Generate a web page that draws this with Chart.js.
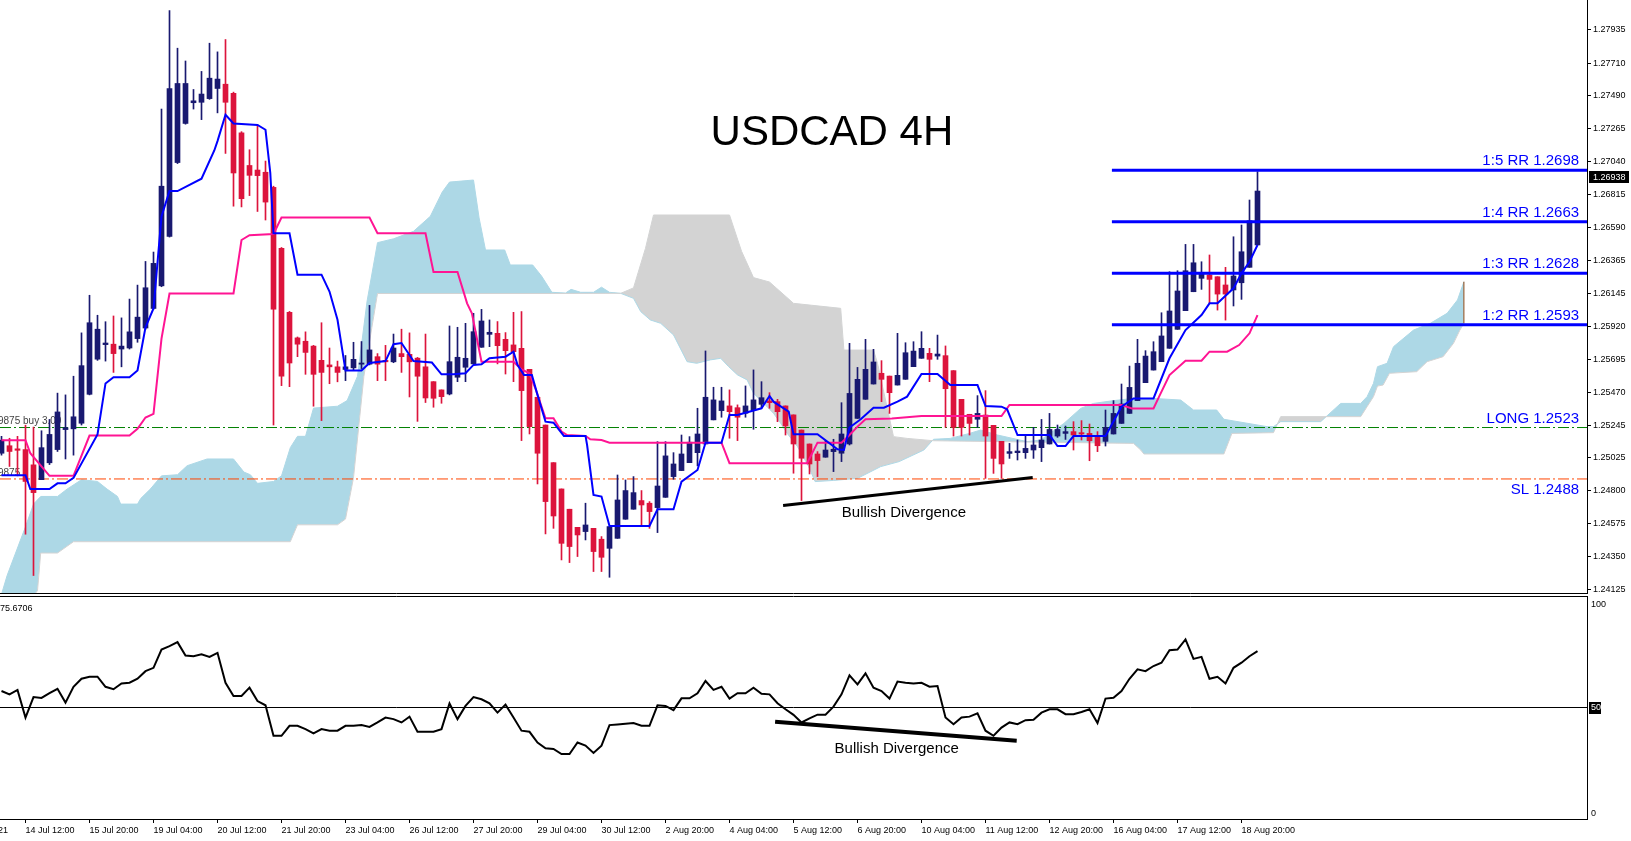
<!DOCTYPE html>
<html>
<head>
<meta charset="utf-8">
<title>USDCAD 4H</title>
<script src="https://cdn.jsdelivr.net/npm/chart.js@4.4.1/dist/chart.umd.min.js"></script>
<style>
  body { margin: 0; background: #fff; }
  #price { position: absolute; left: 0; top: 0; }
  #rsi { position: absolute; left: 0; top: 595px; }
</style>
</head>
<body>
<canvas id="price" width="1631" height="594"></canvas>
<canvas id="rsi" width="1631" height="246"></canvas>
<script>
// USDCAD 4H candles, bar 0 = 13 Jul 2021 16:00, last bar = 19 Aug 04:00
const opens = [
  1.25055,1.25106,1.25085,1.25080,1.24976,1.24875,1.24990,1.25080,1.25216,1.25221,
  1.25259,1.25456,1.25695,1.25794,1.25797,1.25764,1.25771,1.25835,1.25907,1.26040,
  1.26194,1.26531,1.27033,1.27299,1.27440,1.27443,1.27468,1.27537,1.27566,1.27504,
  1.27235,1.27013,1.26982,1.26967,1.26864,1.26450,1.26014,1.25840,1.25817,1.25784,
  1.25687,1.25656,1.25643,1.25625,1.25636,1.25661,1.25661,1.25712,1.25687,1.25677,
  1.25733,1.25728,1.25702,1.25643,1.25542,1.25486,1.25458,1.25572,1.25640,1.25663,
  1.25776,1.25864,1.25871,1.25830,1.25792,1.25769,1.25626,1.25436,1.25247,1.24991,
  1.24812,1.24674,1.24551,1.24522,1.24544,1.24470,1.24408,1.24476,1.24606,1.24674,
  1.24733,1.24715,1.24685,1.24755,1.24896,1.24937,1.24991,1.25059,1.25118,1.25282,
  1.25345,1.25377,1.25365,1.25327,1.25350,1.25388,1.25411,1.25406,1.25377,1.25316,
  1.25213,1.25118,1.25050,1.25028,1.25066,1.25055,1.25118,1.25292,1.25422,1.25526,
  1.25599,1.25580,1.25519,1.25558,1.25644,1.25701,1.25735,1.25716,1.25719,1.25617,
  1.25422,1.25320,1.25286,1.25315,1.25245,1.25136,1.25054,1.25059,1.25059,1.25077,
  1.25093,1.25118,1.25172,1.25190,1.25202,1.25195,1.25190,1.25163,1.25136,1.25186,
  1.25258,1.25326,1.25413,1.25535,1.25621,1.25678,1.25769,1.25898,1.26025,1.26154,
  1.26245,1.26268,1.26256,1.26200,1.26166,1.26215,1.26320,1.26472
];
const highs = [
  1.25170,1.25157,1.25170,1.25246,1.25233,1.25208,1.25285,1.25464,1.25452,1.25579,
  1.25874,1.26130,1.25994,1.25950,1.25989,1.25976,1.26104,1.26199,1.26360,1.26424,
  1.27397,1.28067,1.27811,1.27724,1.27530,1.27653,1.27845,1.27786,1.27870,1.27512,
  1.27243,1.27120,1.27289,1.27043,1.26872,1.26455,1.26020,1.25846,1.25881,1.25789,
  1.25943,1.25771,1.25682,1.25720,1.25810,1.25815,1.26061,1.25733,1.25789,1.25866,
  1.25899,1.25874,1.25707,1.25866,1.25542,1.25486,1.25921,1.25912,1.25939,1.26007,
  1.26034,1.25962,1.25951,1.25876,1.26014,1.26019,1.25626,1.25436,1.25247,1.24991,
  1.24812,1.24674,1.24551,1.24715,1.24544,1.24488,1.24556,1.24907,1.24873,1.24896,
  1.24801,1.24726,1.25134,1.25134,1.25059,1.25179,1.25168,1.25361,1.25751,1.25504,
  1.25504,1.25486,1.25384,1.25513,1.25622,1.25542,1.25467,1.25422,1.25377,1.25316,
  1.25213,1.25118,1.25066,1.25141,1.25150,1.25399,1.25803,1.25639,1.25830,1.25762,
  1.25685,1.25580,1.25871,1.25807,1.25814,1.25882,1.25769,1.25859,1.25785,1.25617,
  1.25422,1.25320,1.25447,1.25481,1.25245,1.25136,1.25122,1.25145,1.25172,1.25231,
  1.25285,1.25326,1.25247,1.25240,1.25270,1.25277,1.25254,1.25202,1.25349,1.25413,
  1.25526,1.25648,1.25830,1.25753,1.25814,1.26011,1.26290,1.26297,1.26476,1.26476,
  1.26358,1.26404,1.26256,1.26320,1.26528,1.26608,1.26778,1.26971
];
const lows = [
  1.25042,1.24965,1.24901,1.24504,1.24223,1.24875,1.24978,1.25067,1.25016,1.25042,
  1.25247,1.25452,1.25687,1.25682,1.25605,1.25643,1.25764,1.25810,1.25899,1.26035,
  1.26188,1.26526,1.27026,1.27294,1.27397,1.27325,1.27463,1.27371,1.27095,1.26736,
  1.26731,1.26808,1.26700,1.26642,1.25247,1.25515,1.25508,1.25712,1.25592,1.25375,
  1.25277,1.25528,1.25541,1.25549,1.25618,1.25631,1.25656,1.25549,1.25549,1.25671,
  1.25605,1.25438,1.25272,1.25400,1.25368,1.25395,1.25452,1.25542,1.25542,1.25663,
  1.25776,1.25780,1.25663,1.25594,1.25542,1.25141,1.25186,1.24846,1.24506,1.24544,
  1.24329,1.24311,1.24352,1.24465,1.24250,1.24250,1.24211,1.24476,1.24606,1.24674,
  1.24567,1.24544,1.24515,1.24755,1.24878,1.24937,1.24991,1.24969,1.25118,1.25282,
  1.25300,1.25157,1.25141,1.25300,1.25218,1.25361,1.25361,1.25270,1.25179,1.24919,
  1.24733,1.24914,1.24896,1.25028,1.24930,1.24998,1.25111,1.25292,1.25422,1.25526,
  1.25406,1.25326,1.25519,1.25558,1.25644,1.25701,1.25542,1.25694,1.25231,1.25172,
  1.25172,1.25179,1.25231,1.24884,1.24918,1.24884,1.25020,1.25009,1.25020,1.25020,
  1.24998,1.25118,1.25163,1.25149,1.25077,1.25145,1.25004,1.25066,1.25104,1.25186,
  1.25258,1.25326,1.25413,1.25535,1.25621,1.25678,1.25769,1.25898,1.26025,1.26154,
  1.26170,1.26079,1.26029,1.25961,1.26057,1.26102,1.26320,1.26472
];
const closes = [
  1.25144,1.25067,1.25075,1.24863,1.24787,1.25093,1.25183,1.25336,1.25229,1.25303,
  1.25651,1.25943,1.25899,1.25805,1.25733,1.25784,1.25881,1.25981,1.26181,1.26347,
  1.26872,1.27537,1.27571,1.27571,1.27453,1.27499,1.27607,1.27601,1.27443,1.26962,
  1.26787,1.26946,1.26944,1.26764,1.26035,1.25579,1.25669,1.25797,1.25741,1.25592,
  1.25605,1.25643,1.25605,1.25643,1.25694,1.25669,1.25758,1.25661,1.25677,1.25771,
  1.25712,1.25677,1.25579,1.25431,1.25429,1.25440,1.25678,1.25708,1.25701,1.25882,
  1.25955,1.25878,1.25787,1.25753,1.25746,1.25481,1.25236,1.25055,1.24726,1.24628,
  1.24442,1.24420,1.24499,1.24567,1.24386,1.24347,1.24556,1.24737,1.24801,1.24787,
  1.24703,1.24658,1.24832,1.25037,1.24982,1.25050,1.25130,1.25186,1.25436,1.25418,
  1.25411,1.25338,1.25300,1.25377,1.25418,1.25433,1.25399,1.25338,1.25241,1.25118,
  1.25021,1.24982,1.25005,1.25077,1.25082,1.25186,1.25462,1.25558,1.25626,1.25676,
  1.25558,1.25467,1.25585,1.25739,1.25750,1.25769,1.25694,1.25730,1.25494,1.25231,
  1.25231,1.25258,1.25326,1.25172,1.25020,1.24982,1.25066,1.25070,1.25088,1.25111,
  1.25145,1.25217,1.25217,1.25202,1.25179,1.25186,1.25140,1.25106,1.25231,1.25326,
  1.25390,1.25503,1.25667,1.25716,1.25746,1.25853,1.26023,1.26159,1.26297,1.26351,
  1.26283,1.26238,1.26138,1.26138,1.26261,1.26426,1.26637,1.26839
];

// RSI, one value per bar
const rsi = [
  57.4,55.9,57.9,45.5,54.7,54.3,56.4,58.4,52.2,59.3,
  62.9,63.8,63.8,59.3,58.2,60.8,61.1,62.9,66.3,67.8,
  76.0,77.5,79.3,73.3,73.0,73.9,72.7,74.5,61.1,55.2,
  55.2,58.9,52.9,51.0,37.3,37.3,41.8,41.8,40.3,38.4,
  40.3,39.6,39.6,41.8,41.8,42.1,41.3,43.3,45.5,44.8,
  43.3,45.9,39.1,39.1,39.1,40.3,51.8,44.8,50.7,54.7,
  53.7,51.9,47.7,51.3,45.5,39.6,39.1,34.3,31.7,31.4,
  29.1,29.1,34.3,32.9,29.6,32.9,42.1,42.4,42.7,43.0,
  41.8,41.8,51.0,50.7,48.8,54.1,54.1,56.4,61.9,57.9,
  59.3,54.0,56.4,56.4,58.9,56.2,55.9,51.9,49.2,46.7,
  43.3,45.1,46.8,46.8,50.4,55.9,64.4,60.4,65.3,58.9,
  57.4,54.0,61.6,61.1,60.8,61.1,59.3,59.6,45.5,42.5,
  45.5,45.9,47.4,39.6,37.3,41.0,43.3,42.5,44.3,44.5,
  47.7,49.2,49.2,47.0,47.0,48.0,49.2,43.0,54.0,54.4,
  57.4,62.9,67.1,66.3,68.6,70.1,75.7,76.0,80.5,71.8,
  72.7,62.9,63.8,60.8,67.8,70.1,73.0,75.3
];

// ichimoku lines, [bar, price] vertices
const tenkan = [[0,1.24906],[3,1.24906],[3.6,1.24811],[6,1.24811],[7,1.24850],[8,1.24850],[9,1.24887],[12,1.25183],[13,1.25530],[14,1.25572],[16,1.25572],[17,1.25618],[18,1.25912],[19,1.26040],[20,1.26667],[21,1.26839],[22,1.26839],[25,1.26923],[26.6,1.27115],[27,1.27179],[28,1.27358],[29,1.27299],[32,1.27289],[33,1.27256],[33.6,1.26962],[34,1.26552],[36,1.26552],[37,1.26270],[40,1.26270],[41,1.26155],[42,1.25963],[43,1.25618],[45,1.25618],[46,1.25669],[48,1.25682],[49,1.25797],[50,1.25805],[51.5,1.25682],[53.8,1.25672],[55,1.25592],[56.5,1.25592],[58,1.25599],[59,1.25656],[60,1.25660],[61,1.25701],[63,1.25712],[64,1.25746],[64.5,1.25656],[65.3,1.25588],[66.3,1.25588],[67,1.25452],[68,1.25270],[69,1.25263],[70.3,1.25173],[73,1.25173],[73.2,1.25111],[74,1.24771],[75,1.24760],[76,1.24560],[81,1.24560],[82,1.24674],[84,1.24674],[85,1.24862],[87,1.24941],[88,1.25127],[90,1.25127],[91,1.25316],[92,1.25316],[95,1.25361],[96,1.25445],[96.5,1.25406],[98.4,1.25338],[99,1.25184],[102,1.25184],[104.5,1.25082],[105.3,1.25077],[106,1.25230],[107.4,1.25286],[109,1.25365],[110.3,1.25365],[112,1.25406],[113.2,1.25440],[115,1.25594],[117,1.25594],[118.6,1.25519],[122,1.25519],[123,1.25376],[125,1.25372],[125.7,1.25354],[127,1.25179],[131,1.25179],[132,1.25104],[133,1.25104],[134,1.25172],[138,1.25172],[140,1.25372],[141.5,1.25428],[144,1.25428],[146,1.25701],[148,1.25893],[150,1.25995],[151,1.26075],[152,1.26075],[154,1.26177],[155,1.26279],[156,1.26358],[157,1.26472]];
const kijun = [[0,1.25144],[3,1.25144],[3.6,1.25055],[6,1.24901],[9,1.24901],[11,1.25175],[16,1.25175],[17,1.25221],[18,1.25298],[19,1.25323],[20,1.25835],[21,1.26142],[29,1.26142],[30,1.26506],[31,1.26539],[34,1.26547],[35,1.26659],[46,1.26659],[47,1.26552],[53,1.26552],[54,1.26288],[57,1.26288],[58.2,1.26075],[58.8,1.26007],[60,1.25678],[64,1.25678],[65,1.25626],[66,1.25599],[66.8,1.25486],[68,1.25293],[69,1.25293],[70,1.25202],[70.7,1.25179],[73,1.25173],[73.6,1.25150],[75,1.25145],[76,1.25127],[90,1.25127],[91,1.24987],[100.7,1.24987],[102,1.25127],[105,1.25127],[106,1.25179],[107,1.25236],[108,1.25286],[111.3,1.25292],[115,1.25308],[125,1.25308],[126,1.25383],[140,1.25383],[141.3,1.25360],[144,1.25360],[144.7,1.25440],[146,1.25587],[148,1.25685],[150,1.25685],[151,1.25746],[153.2,1.25746],[154.7,1.25791],[156,1.25871],[157,1.25995]];
const spanA = [[0,1.24095],[0.7,1.24223],[3,1.24555],[4,1.24709],[4.9,1.24761],[7,1.24761],[8.2,1.24811],[10,1.24875],[12,1.24863],[13.2,1.24811],[14.5,1.24761],[14.9,1.24709],[17,1.24709],[17.4,1.24747],[18.6,1.24811],[20,1.24901],[22,1.24909],[23.2,1.24970],[25.7,1.25016],[29,1.25016],[30.3,1.24927],[31.1,1.24909],[32,1.24850],[34,1.24863],[35,1.24901],[36.1,1.25093],[37,1.25170],[38,1.25170],[39,1.25362],[42,1.25375],[43.2,1.25413],[44.5,1.25579],[45.7,1.26091],[47,1.26488],[49,1.26514],[51.5,1.26565],[53.6,1.26667],[55.1,1.26833],[56,1.26900],[59,1.26914],[59.7,1.26656],[60.5,1.26438],[62.9,1.26438],[63.6,1.26336],[66.4,1.26336],[67.5,1.26261],[68.8,1.26150],[70.5,1.26145],[71.2,1.26170],[72.4,1.26150],[74,1.26150],[75,1.26185],[76,1.26150],[77.4,1.26143],[79,1.26109],[79.9,1.26019],[81.1,1.25962],[82.4,1.25939],[84,1.25860],[85.7,1.25678],[86.9,1.25667],[88.6,1.25690],[89.9,1.25701],[90.9,1.25644],[92,1.25588],[93.2,1.25554],[94,1.25463],[95.7,1.25372],[96.5,1.25327],[97.4,1.25259],[98.2,1.25191],[99.5,1.25100],[100.9,1.24964],[101.7,1.24862],[104,1.24870],[107,1.24884],[109.9,1.24964],[112.2,1.24998],[115.3,1.25077],[116.5,1.25150],[118.6,1.25156],[121,1.25190],[122.4,1.25213],[124.5,1.25179],[128.2,1.25134],[129.9,1.25145],[132.8,1.25258],[134.9,1.25360],[136.5,1.25394],[139,1.25413],[141.5,1.25428],[144,1.25428],[147.4,1.25417],[148.2,1.25383],[149,1.25349],[151.9,1.25349],[152.8,1.25286],[158.2,1.25236],[159,1.25236],[159.9,1.25270],[164.9,1.25270],[167.4,1.25394],[169.9,1.25394],[170.7,1.25440],[171.5,1.25531],[172,1.25644],[173.2,1.25667],[174,1.25780],[176.5,1.25893],[178.6,1.25939],[180.7,1.26007],[182,1.26098],[182.8,1.26222]];
const spanB = [[0,1.24044],[3.4,1.24044],[4.5,1.24120],[4.9,1.24376],[7,1.24376],[9,1.24453],[36.1,1.24453],[37,1.24568],[42,1.24568],[43,1.24607],[44,1.24888],[45.3,1.25579],[46.3,1.25912],[47,1.26142],[68.8,1.26142],[77.4,1.26143],[79,1.26180],[80.5,1.26450],[81.5,1.26676],[91,1.26676],[92.5,1.26430],[94,1.26250],[96,1.26220],[99,1.26075],[104.9,1.26041],[105.3,1.25757],[109,1.25757],[109.5,1.25667],[111.5,1.25168],[113.2,1.25156],[116.5,1.25140],[141.5,1.25122],[142.4,1.25077],[142.8,1.25050],[152.8,1.25050],[153.8,1.25190],[159,1.25195],[159.9,1.25304],[169.9,1.25304],[170.7,1.25372],[171.5,1.25440],[172,1.25512],[172.7,1.25519],[173.5,1.25599],[176.9,1.25610],[178.2,1.25678],[180.2,1.25712],[181.5,1.25803],[182.3,1.25893],[182.8,1.25939]];
const cloudEnd = [[182.8,1.25939],[182.8,1.26222]];

// trade levels
const rrNames = ['1:5 RR', '1:4 RR', '1:3 RR', '1:2 RR'];
const rrLevels = [1.2698, 1.2663, 1.2628, 1.2593];
const rrStart = 138.8;
const longLevel = 1.2523;
const slLevel = 1.2488;
const divPrice = [[97.7,1.24700],[128.9,1.24890]];
const divRsi = [[96.7,43.6],[126.9,35.1]];
const lastPrice = 1.26938;
const lastRsi = '75.6706';

// axes
const priceTicks = [1.27935,1.27710,1.27490,1.27265,1.27040,1.26815,1.26590,1.26365,1.26145,1.25920,1.25695,1.25470,1.25245,1.25025,1.24800,1.24575,1.24350,1.24125];
const rsiTicks = [100, 50, 0];
const xTickBars = [-5,3,11,19,27,35,43,51,59,67,75,83,91,99,107,115,123,131,139,147,155];
const xTickLabels = ['13 Jul 2021','14 Jul 12:00','15 Jul 20:00','19 Jul 04:00','20 Jul 12:00','21 Jul 20:00','23 Jul 04:00','26 Jul 12:00','27 Jul 20:00','29 Jul 04:00','30 Jul 12:00','2 Aug 20:00','4 Aug 04:00','5 Aug 12:00','6 Aug 20:00','10 Aug 04:00','11 Aug 12:00','12 Aug 20:00','16 Aug 04:00','17 Aug 12:00','18 Aug 20:00'];

const X_MIN = -0.1875, X_MAX = 198.1875;
const P_MIN = 1.24104, P_MAX = 1.28139;

const NAVY = '#191970', RED = '#dc143c';
const FONT = '"Liberation Sans", Arial, sans-serif';

const pts = arr => arr.map(p => ({ x: p[0], y: p[1] }));
const isUp = i => closes[i] >= opens[i];

function drawNote(chart, n) {
  const { ctx, scales } = chart;
  ctx.save();
  ctx.font = n.font;
  ctx.fillStyle = n.color;
  ctx.textAlign = n.align || 'left';
  ctx.textBaseline = 'middle';
  ctx.fillText(n.text, scales.x.getPixelForValue(n.bar) + (n.dx || 0), scales.y.getPixelForValue(n.value) + (n.dy || 0));
  ctx.restore();
}

const backNotes = [
  { text: '9875 buy 3.00', bar: X_MIN, value: 1.25275, dx: -2, font: '10px ' + FONT, color: '#444' },
  { text: '9875', bar: X_MIN, value: 1.24921, dx: -2, font: '10px ' + FONT, color: '#444' }
];
const frontNotes = [
  { text: 'USDCAD 4H', bar: 103.8, value: 1.27234, font: '42px ' + FONT, color: '#000', align: 'center' },
  ...rrLevels.map((l, i) => ({ text: rrNames[i] + ' ' + l.toFixed(4), bar: 197.2, value: l, dy: -9, font: '15px ' + FONT, color: '#0000ff', align: 'right' })),
  { text: 'LONG ' + longLevel.toFixed(4), bar: 197.2, value: longLevel, dy: -9, font: '15px ' + FONT, color: '#0000ff', align: 'right' },
  { text: 'SL ' + slLevel.toFixed(4), bar: 197.2, value: slLevel, dy: 10.5, font: '15px ' + FONT, color: '#0000ff', align: 'right' },
  { text: 'Bullish Divergence', bar: 112.8, value: 1.24649, font: '15px ' + FONT, color: '#000', align: 'center' }
];
const rsiNotes = [
  { text: 'Bullish Divergence', bar: 111.9, value: 31.4, font: '15px ' + FONT, color: '#000', align: 'center' },
  { text: lastRsi, bar: X_MIN, value: 94.3, font: '9px ' + FONT, color: '#000' }
];

const pricePaint = {
  id: 'pricePaint',
  beforeDatasetsDraw(chart) { backNotes.forEach(n => drawNote(chart, n)); },
  afterDatasetsDraw(chart) { frontNotes.forEach(n => drawNote(chart, n)); },
  afterDraw(chart) {
    const { ctx, chartArea, scales: { y } } = chart;
    ctx.save();
    ctx.strokeStyle = '#000';
    ctx.lineWidth = 1;
    ctx.beginPath();
    ctx.moveTo(0, chartArea.bottom + 0.5);
    ctx.lineTo(chartArea.right, chartArea.bottom + 0.5);
    ctx.stroke();
    const py = Math.round(y.getPixelForValue(lastPrice));
    ctx.fillStyle = '#000';
    ctx.fillRect(chartArea.right + 2, py - 6, 40, 12);
    ctx.fillStyle = '#fff';
    ctx.font = '9px ' + FONT;
    ctx.textBaseline = 'middle';
    ctx.fillText(lastPrice.toFixed(5), chartArea.right + 6, py + 0.5);
    ctx.restore();
  }
};

const rsiPaint = {
  id: 'rsiPaint',
  afterDatasetsDraw(chart) { rsiNotes.forEach(n => drawNote(chart, n)); },
  afterDraw(chart) {
    const { ctx, chartArea, scales: { y } } = chart;
    ctx.save();
    ctx.strokeStyle = '#000';
    ctx.lineWidth = 1;
    ctx.beginPath();
    ctx.moveTo(0, chartArea.top + 0.5);
    ctx.lineTo(chartArea.right, chartArea.top + 0.5);
    ctx.stroke();
    ctx.font = '9px ' + FONT;
    ctx.textBaseline = 'middle';
    rsiTicks.forEach(v => {
      let py = y.getPixelForValue(v);
      if (v === 100) py += 8;
      if (v === 0) py -= 6;
      if (v === 50) {
        ctx.fillStyle = '#000';
        ctx.fillRect(chartArea.right + 2, Math.round(py) - 6, 12, 12);
        ctx.fillStyle = '#fff';
      } else {
        ctx.fillStyle = '#000';
      }
      ctx.fillText(String(v), chartArea.right + 4, py + 0.5);
    });
    ctx.restore();
  }
};

const lineDs = (data, color, width, order, extra) => Object.assign({
  type: 'line', data: pts(data), borderColor: color, borderWidth: width,
  pointRadius: 0, fill: false, tension: 0, order: order
}, extra || {});

const idx = opens.map((_, i) => i);

new Chart(document.getElementById('price'), {
  type: 'bar',
  data: {
    datasets: [
      lineDs(spanA, '#add8e6', 1, 20, { fill: { target: 1, above: '#add8e6', below: '#d3d3d3' } }),
      lineDs(spanB, '#d3d3d3', 1, 19),
      lineDs(cloudEnd, '#8b4513', 1, 18),
      lineDs([[X_MIN, longLevel], [X_MAX, longLevel]], '#008000', 1, 15, { borderDash: [11, 3, 2, 3] }),
      lineDs([[X_MIN, slLevel], [X_MAX, slLevel]], '#ff4500', 1, 15, { borderDash: [11, 3, 2, 3] }),
      {
        type: 'bar', data: idx.map(i => ({ x: i, y: [lows[i], highs[i]] })),
        backgroundColor: ctx => isUp(ctx.dataIndex) ? NAVY : RED,
        grouped: false, maxBarThickness: 1, categoryPercentage: 1, barPercentage: 1, order: 10
      },
      {
        type: 'bar', data: idx.map(i => ({ x: i, y: [opens[i], closes[i]] })),
        backgroundColor: ctx => isUp(ctx.dataIndex) ? NAVY : RED,
        grouped: false, maxBarThickness: 5, categoryPercentage: 1, barPercentage: 1, minBarLength: 1, order: 9
      },
      lineDs(tenkan, '#0000ff', 2, 5),
      lineDs(kijun, '#ff1493', 2, 5),
      ...rrLevels.map(l => lineDs([[rrStart, l], [X_MAX, l]], '#0000ff', 3, 4)),
      lineDs(divPrice, '#000', 3, 3)
    ]
  },
  options: {
    responsive: false,
    animation: false,
    devicePixelRatio: 1,
    layout: { padding: { top: 0, left: 0, right: 0, bottom: 1 } },
    plugins: { legend: { display: false }, tooltip: { enabled: false } },
    scales: {
      x: { type: 'linear', min: X_MIN, max: X_MAX, offset: false, display: false },
      y: {
        position: 'right', min: P_MIN, max: P_MAX,
        afterFit: s => { s.width = 44; s.paddingTop = 0; s.paddingBottom = 0; },
        afterBuildTicks: s => { s.ticks = priceTicks.map(v => ({ value: v })); },
        ticks: { color: '#000', padding: 2, font: { family: FONT, size: 9 }, callback: v => v.toFixed(5) },
        grid: { display: true, drawOnChartArea: false, drawTicks: true, tickLength: 4, color: '#000' },
        border: { display: true, color: '#000' }
      }
    }
  },
  plugins: [pricePaint]
});

new Chart(document.getElementById('rsi'), {
  type: 'line',
  data: {
    datasets: [
      lineDs([[X_MIN, 50], [X_MAX, 50]], '#000', 1, 3),
      { data: rsi.map((v, i) => ({ x: i, y: v })), borderColor: '#000', borderWidth: 2, pointRadius: 0, tension: 0, order: 2 },
      lineDs(divRsi, '#000', 4, 1)
    ]
  },
  options: {
    responsive: false,
    animation: false,
    devicePixelRatio: 1,
    layout: { padding: { top: 1, left: 0, right: 0, bottom: 0 } },
    plugins: { legend: { display: false }, tooltip: { enabled: false } },
    scales: {
      x: {
        type: 'linear', min: X_MIN, max: X_MAX, offset: false,
        afterFit: s => { s.height = 22; s.paddingLeft = 0; s.paddingRight = 0; },
        afterBuildTicks: s => { s.ticks = xTickBars.map(v => ({ value: v })); },
        ticks: {
          autoSkip: false, maxRotation: 0, align: 'start', padding: 2, color: '#000',
          font: { family: FONT, size: 9 },
          callback: v => xTickLabels[xTickBars.indexOf(v)]
        },
        grid: { display: true, drawOnChartArea: false, drawTicks: true, tickLength: 4, color: '#000' },
        border: { display: true, color: '#000' }
      },
      y: {
        position: 'right', min: 0, max: 100,
        afterFit: s => { s.width = 44; s.paddingTop = 0; s.paddingBottom = 0; },
        ticks: { display: false },
        grid: { display: false },
        border: { display: true, color: '#000' }
      }
    }
  },
  plugins: [rsiPaint]
});
</script>
</body>
</html>
